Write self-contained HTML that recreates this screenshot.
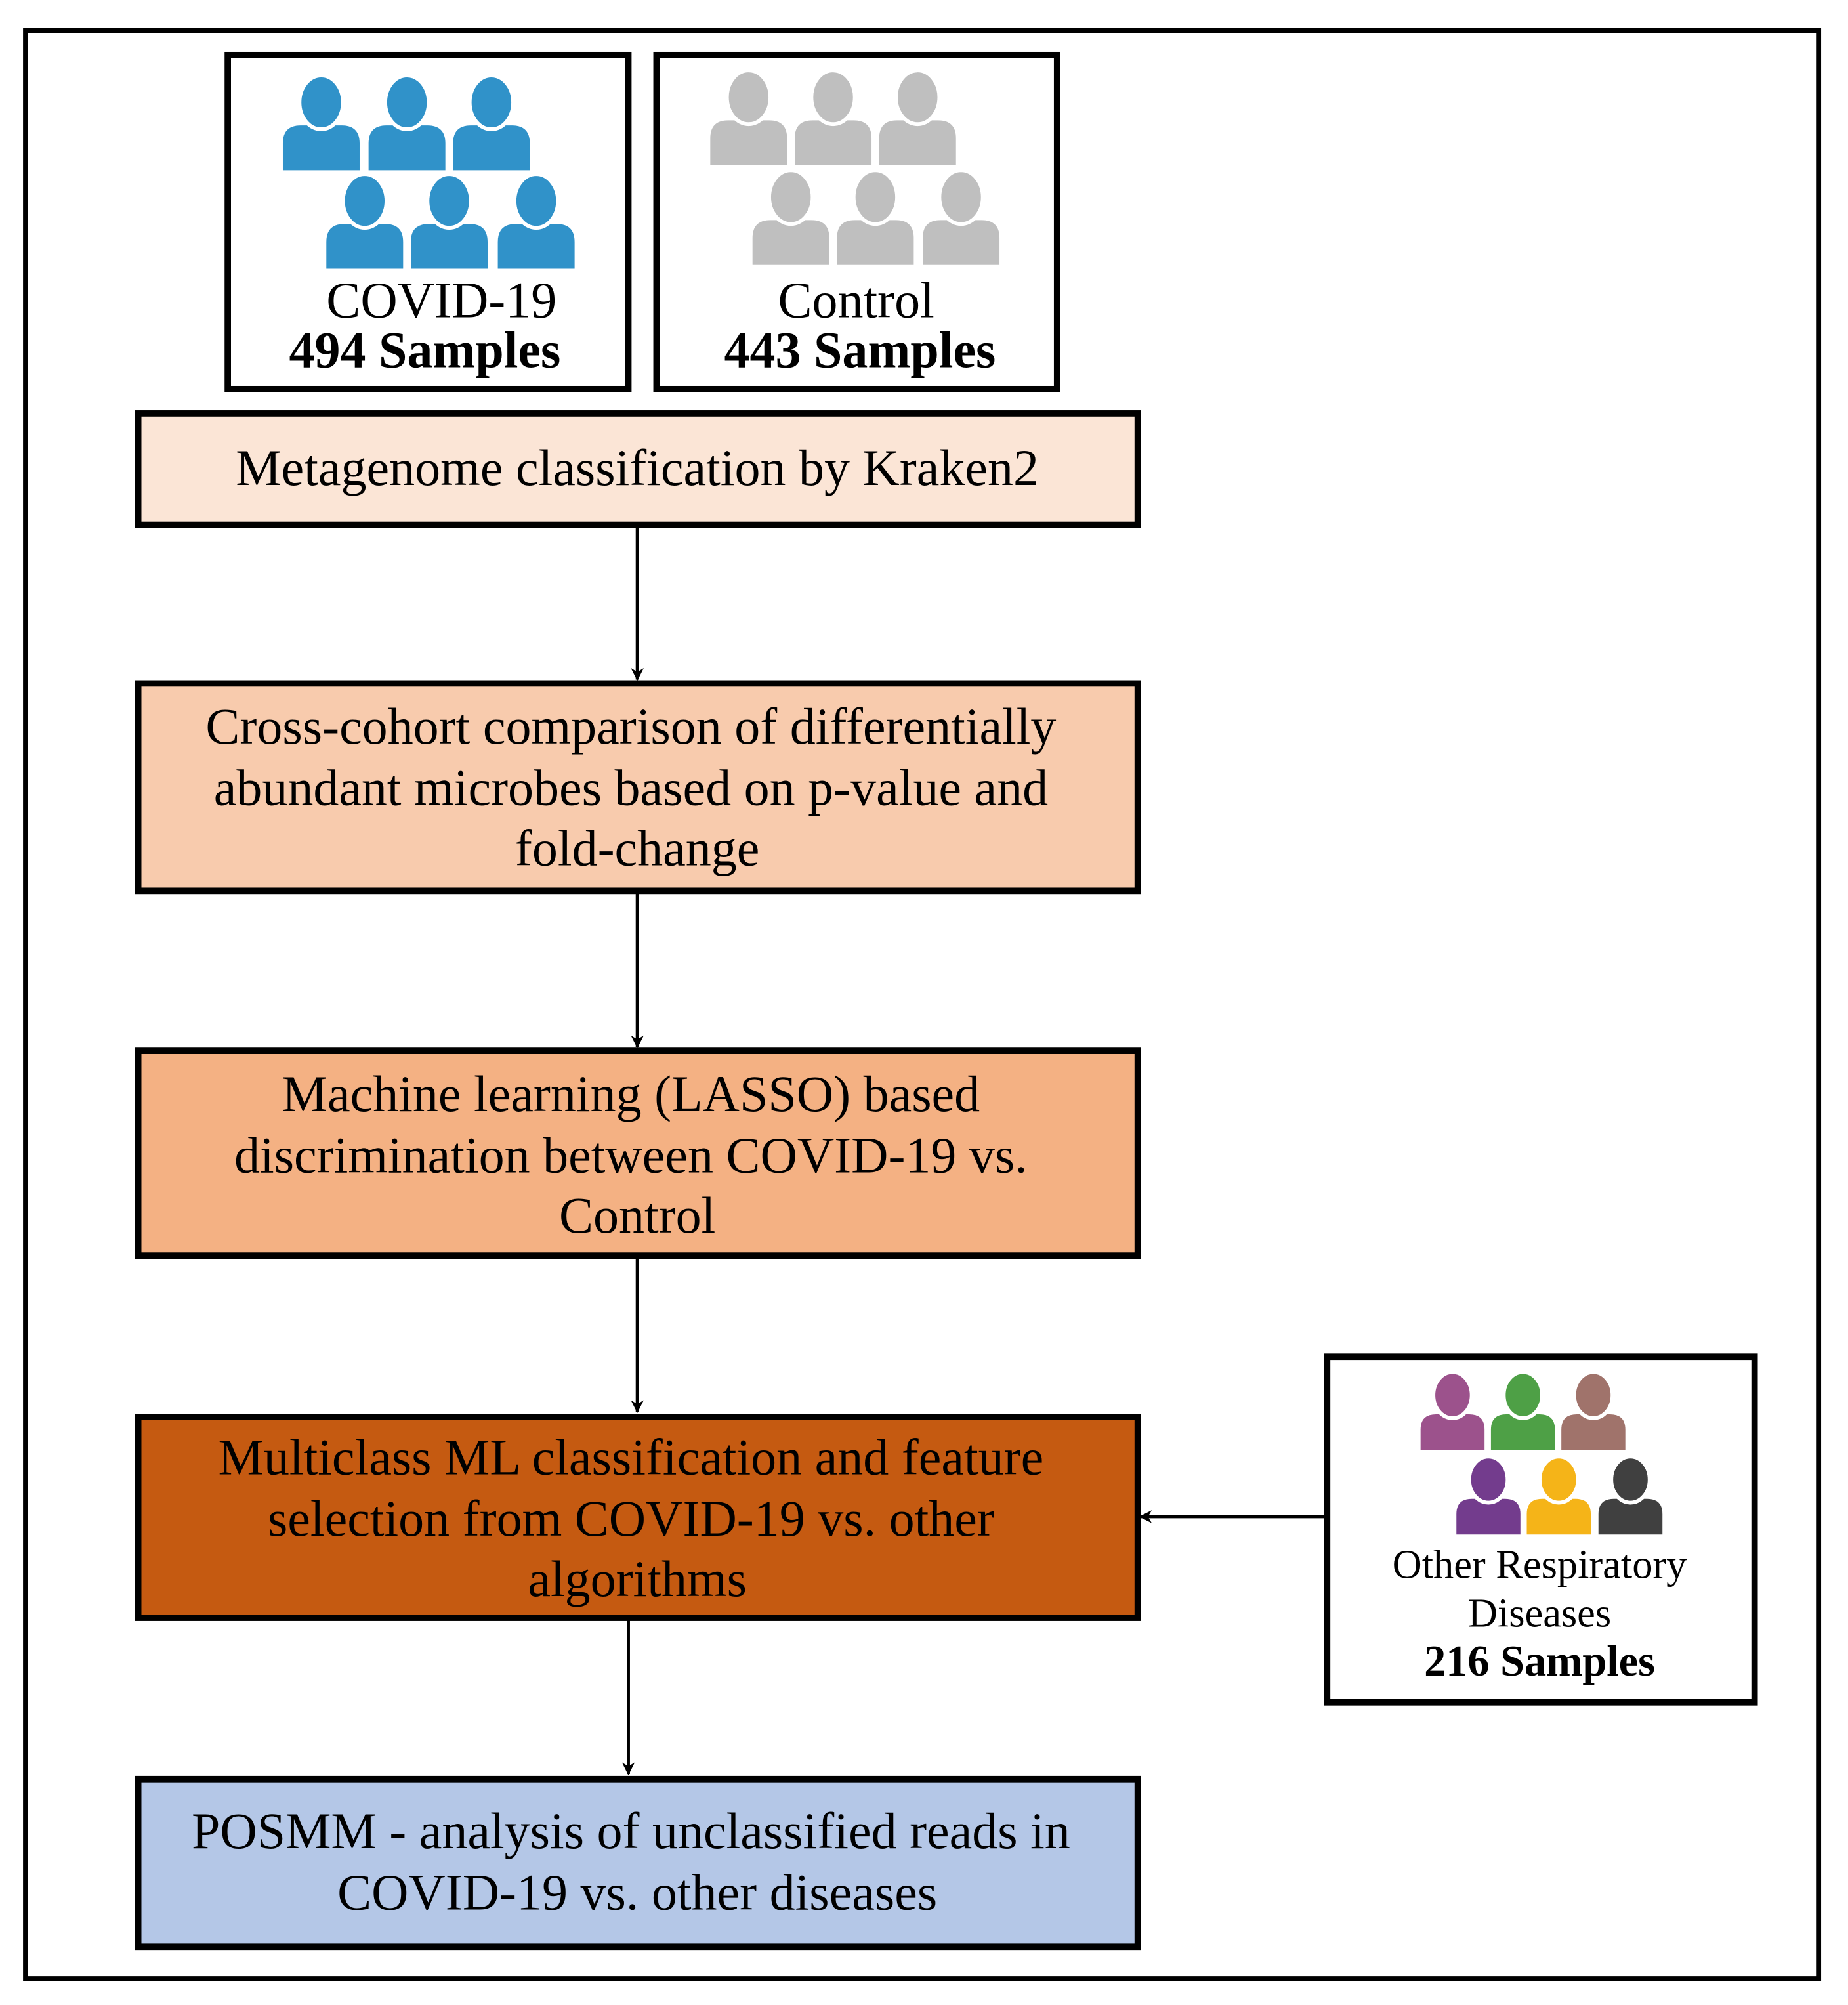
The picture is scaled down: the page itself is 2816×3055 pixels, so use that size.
<!DOCTYPE html>
<html><head><meta charset="utf-8"><style>
html,body{margin:0;padding:0;background:#fff;}
svg{display:block;}
</style></head><body>
<svg width="2816" height="3055" viewBox="0 0 1444 1566.5" preserveAspectRatio="none" xmlns="http://www.w3.org/2000/svg" font-family="'Liberation Serif', 'Times New Roman', serif">
<defs>
<marker id="ah" markerWidth="10" markerHeight="10" refX="9" refY="5" orient="auto" markerUnits="userSpaceOnUse">
<path d="M0,0 L10,5 L0,10 L3,5 Z" fill="#000"/>
</marker>
<g id="p">
<path d="M-30,35 V14 Q-30,0 -16,0 H16 Q30,0 30,14 V35 Z"/>
<ellipse cx="0" cy="-18" rx="17" ry="21" stroke="#fff" stroke-width="3"/>
</g>
<g id="ps">
<path d="M-25,28 V12 Q-25,0 -13,0 H13 Q25,0 25,12 V28 Z"/>
<ellipse cx="0" cy="-15" rx="15" ry="18" stroke="#fff" stroke-width="3"/>
</g>
</defs>
<rect width="1444" height="1567" fill="#fff"/>
<rect x="20" y="24" width="1401" height="1522" fill="none" stroke="#000" stroke-width="4"/>

<g font-family="'Liberation Serif', 'Times New Roman', serif">
<!-- COVID box -->
<rect x="178" y="43" width="313" height="261" fill="#fff" stroke="#000" stroke-width="5"/>
<g fill="#3092c9">
<use href="#p" x="251" y="98"/><use href="#p" x="318" y="98"/><use href="#p" x="384" y="98"/>
<use href="#p" x="285" y="175"/><use href="#p" x="351" y="175"/><use href="#p" x="419" y="175"/>
</g>
<text x="345" y="248" font-size="40" text-anchor="middle">COVID-19</text>
<text x="332" y="287" font-size="40" font-weight="bold" text-anchor="middle">494 Samples</text>

<!-- Control box -->
<rect x="513" y="43" width="313" height="261" fill="#fff" stroke="#000" stroke-width="5"/>
<g fill="#bfbfbf">
<use href="#p" x="585" y="94"/><use href="#p" x="651" y="94"/><use href="#p" x="717" y="94"/>
<use href="#p" x="618" y="172"/><use href="#p" x="684" y="172"/><use href="#p" x="751" y="172"/>
</g>
<text x="669" y="248" font-size="40" text-anchor="middle">Control</text>
<text x="672" y="287" font-size="40" font-weight="bold" text-anchor="middle">443 Samples</text>

<!-- flow boxes -->
<rect x="108" y="323" width="781" height="87" fill="#fbe5d6" stroke="#000" stroke-width="5"/>
<text x="498" y="379" font-size="40" text-anchor="middle">Metagenome classification by Kraken2</text>

<line x1="498" y1="410" x2="498" y2="531" stroke="#000" stroke-width="2.5" marker-end="url(#ah)"/>

<rect x="108" y="534" width="781" height="162" fill="#f8cbad" stroke="#000" stroke-width="5"/>
<text font-size="40" text-anchor="middle">
<tspan x="498" y="581">Cross-cohort comparison of differentially</tspan>
<tspan x="498" y="629">abundant microbes based on p-value and</tspan>
<tspan x="498" y="676">fold-change</tspan></text>

<line x1="498" y1="696" x2="498" y2="818" stroke="#000" stroke-width="2.5" marker-end="url(#ah)"/>

<rect x="108" y="821" width="781" height="160" fill="#f4b183" stroke="#000" stroke-width="5"/>
<text font-size="40" text-anchor="middle">
<tspan x="498" y="868">Machine learning (LASSO) based</tspan>
<tspan x="498" y="916">discrimination between COVID-19 vs.</tspan>
<tspan x="498" y="963">Control</tspan></text>

<line x1="498" y1="981" x2="498" y2="1103" stroke="#000" stroke-width="2.5" marker-end="url(#ah)"/>

<rect x="108" y="1107" width="781" height="157" fill="#c55a11" stroke="#000" stroke-width="5"/>
<text font-size="40" text-anchor="middle">
<tspan x="498" y="1152">Multiclass ML classification and feature</tspan>
<tspan x="498" y="1200">selection from COVID-19 vs. other</tspan>
<tspan x="498" y="1247">algorithms</tspan></text>

<line x1="491" y1="1264" x2="491" y2="1386" stroke="#000" stroke-width="2.5" marker-end="url(#ah)"/>

<rect x="108" y="1390" width="781" height="131" fill="#b4c7e7" stroke="#000" stroke-width="5"/>
<text font-size="40" text-anchor="middle">
<tspan x="498" y="1444">POSMM - analysis of unclassified reads in</tspan>
<tspan x="498" y="1492">COVID-19 vs. other diseases</tspan></text>

<!-- Other box -->
<line x1="1036" y1="1185" x2="891" y2="1185" stroke="#000" stroke-width="2.5" marker-end="url(#ah)"/>
<rect x="1037" y="1060" width="334" height="270" fill="#fff" stroke="#000" stroke-width="5"/>
<use href="#ps" x="1135" y="1105" fill="#9c528c"/>
<use href="#ps" x="1190" y="1105" fill="#4ea046"/>
<use href="#ps" x="1245" y="1105" fill="#a0736b"/>
<use href="#ps" x="1163" y="1171" fill="#733c8d"/>
<use href="#ps" x="1218" y="1171" fill="#f5b418"/>
<use href="#ps" x="1274" y="1171" fill="#404040"/>
<text x="1203" y="1233" font-size="32" text-anchor="middle">Other Respiratory</text>
<text x="1203" y="1271" font-size="32" text-anchor="middle">Diseases</text>
<text x="1203" y="1309" font-size="34" font-weight="bold" text-anchor="middle">216 Samples</text>
</g>
</svg>
</body></html>
